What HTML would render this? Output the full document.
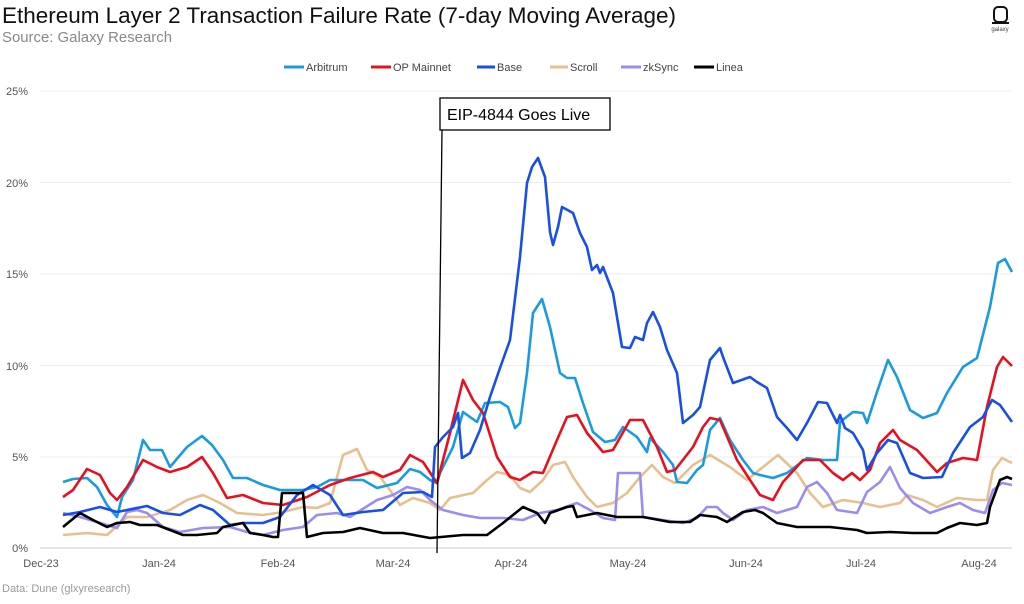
<!DOCTYPE html>
<html><head><meta charset="utf-8"><style>
body{margin:0;background:#fff;width:1024px;height:599px;overflow:hidden;font-family:"Liberation Sans",sans-serif}
</style></head><body>
<svg width="1024" height="599" xmlns="http://www.w3.org/2000/svg" font-family="Liberation Sans, sans-serif">
<text x="2" y="23" font-size="22" fill="#111" textLength="674" lengthAdjust="spacingAndGlyphs">Ethereum Layer 2 Transaction Failure Rate (7-day Moving Average)</text>
<text x="2" y="42" font-size="15" fill="#888" textLength="170" lengthAdjust="spacingAndGlyphs">Source: Galaxy Research</text>
<rect x="994" y="7" width="13" height="15" rx="4" fill="none" stroke="#111" stroke-width="2"/>
<line x1="992" y1="23" x2="1009" y2="23" stroke="#111" stroke-width="2"/>
<text x="1000" y="31" font-size="6" fill="#444" text-anchor="middle">galaxy</text>
<g font-size="11" fill="#444">
<line x1="284" y1="67" x2="304" y2="67" stroke="#1a9be0" stroke-width="3"/><text x="306" y="71">Arbitrum</text>
<line x1="371" y1="67" x2="391" y2="67" stroke="#e8101e" stroke-width="3"/><text x="393" y="71">OP Mainnet</text>
<line x1="477" y1="67" x2="495" y2="67" stroke="#1a4fe6" stroke-width="3"/><text x="497" y="71">Base</text>
<line x1="550" y1="67" x2="568" y2="67" stroke="#e6c08e" stroke-width="3"/><text x="570" y="71">Scroll</text>
<line x1="621" y1="67" x2="641" y2="67" stroke="#9b8cf0" stroke-width="3"/><text x="643" y="71">zkSync</text>
<line x1="694" y1="67" x2="714" y2="67" stroke="#000" stroke-width="3"/><text x="716" y="71">Linea</text>
</g>
<g stroke="#eee" stroke-width="1">
<line x1="40" y1="91" x2="1012" y2="91"/><line x1="40" y1="182.5" x2="1012" y2="182.5"/>
<line x1="40" y1="274" x2="1012" y2="274"/><line x1="40" y1="365.5" x2="1012" y2="365.5"/>
<line x1="40" y1="457" x2="1012" y2="457"/>
</g>
<line x1="40" y1="548" x2="1012" y2="548" stroke="#ccc"/>
<g font-size="11" fill="#555" text-anchor="end">
<text x="28" y="95">25%</text><text x="28" y="187">20%</text><text x="28" y="278">15%</text>
<text x="28" y="370">10%</text><text x="28" y="461">5%</text><text x="28" y="552">0%</text>
</g>
<g font-size="11" fill="#555" text-anchor="middle">
<text x="41" y="567">Dec-23</text><text x="159" y="567">Jan-24</text><text x="278" y="567">Feb-24</text>
<text x="393" y="567">Mar-24</text><text x="511" y="567">Apr-24</text><text x="628" y="567">May-24</text>
<text x="746" y="567">Jun-24</text><text x="861" y="567">Jul-24</text><text x="979" y="567">Aug-24</text>
</g>
<text x="2" y="592" font-size="11" fill="#999">Data: Dune (glxyresearch)</text>
<g fill="none" stroke-width="2.6" stroke-linejoin="round">
<polyline stroke="#e6c08e" points="63,535 87,533 107,535 127,517 147,517 170,510 187,500 203,495 220,503 237,513 263,515 283,512 303,507 317,508 330,503 343,455 357,449 367,470 380,477 390,490 400,505 413,498 430,503 440,510 450,498 473,493 487,480 497,472 510,475 520,488 530,492 543,480 553,465 565,462 573,477 587,497 597,507 613,503 627,493 640,477 652,465 663,477 675,483 693,465 710,455 730,467 747,480 763,467 778,455 797,473 810,493 823,507 843,500 863,503 880,507 900,503 907,495 923,500 937,507 957,498 977,500 987,500 993,470 1002,458 1012,463"/>
<polyline stroke="#9b8cf0" points="63,513 80,517 97,522 117,528 127,512 137,510 147,513 163,527 180,532 203,528 230,527 247,532 263,535 283,530 303,527 317,515 337,513 350,517 377,500 393,495 407,487 420,490 430,500 443,510 463,515 480,518 503,518 523,520 540,513 557,510 577,503 590,510 603,518 615,520 618,473 640,473 643,517 663,520 683,523 697,518 707,507 717,507 723,513 733,520 747,510 763,507 777,513 797,507 807,487 817,482 827,493 837,510 857,513 867,492 880,482 890,467 900,488 913,503 930,513 947,507 960,503 973,510 985,513 993,490 1002,483 1012,485"/>
<polyline stroke="#1a9be0" points="63,482 73,479 87,478 97,487 107,505 117,517 122,497 133,480 143,440 150,450 162,450 170,467 187,447 202,436 212,445 223,460 233,478 247,478 263,485 280,490 303,490 317,487 330,480 343,480 363,480 377,488 397,483 410,469 420,472 430,480 437,483 440,473 453,447 463,412 477,422 485,403 500,402 508,407 515,428 520,423 527,373 533,313 542,299 550,327 560,373 567,378 575,378 583,403 593,432 605,442 615,440 623,427 637,437 647,452 650,438 663,452 673,465 677,482 687,483 697,470 703,465 710,430 720,418 730,440 743,460 753,473 760,475 773,478 787,473 807,458 823,460 837,460 840,422 853,412 863,413 867,423 877,392 888,360 897,377 910,410 923,418 937,413 947,393 963,367 977,358 990,307 998,263 1005,259 1012,272"/>
<polyline stroke="#e8101e" points="63,497 73,490 87,469 100,475 110,493 117,500 127,487 143,460 157,467 170,472 187,467 202,457 213,473 227,498 243,495 263,503 283,505 307,497 330,485 350,478 373,472 383,477 400,470 410,455 423,462 437,483 450,433 463,380 473,400 483,413 497,457 510,477 520,480 533,472 543,473 557,440 567,417 577,415 587,433 603,452 613,450 630,420 643,420 657,447 667,472 675,470 693,447 703,427 710,418 720,420 737,460 750,480 760,495 773,500 783,482 803,460 820,460 833,473 843,480 852,473 860,480 870,470 880,443 893,430 900,440 917,450 937,472 947,463 963,458 977,460 987,407 997,367 1003,357 1012,366"/>
<polyline stroke="#1a4fe6" points="63,515 80,512 100,507 117,512 147,506 163,513 180,515 200,505 213,510 230,525 243,523 263,523 280,517 297,495 313,485 330,495 343,515 363,512 383,510 403,493 423,492 432,497 435,447 443,437 453,427 458,413 462,458 470,453 480,430 490,397 500,368 510,340 520,257 527,183 532,167 538,158 545,177 550,232 553,245 558,227 562,207 573,213 580,233 587,247 592,270 597,265 600,273 603,267 613,293 622,347 630,348 635,337 643,340 647,323 653,312 660,327 667,350 677,373 683,423 693,415 700,407 710,360 720,348 723,357 733,383 750,377 757,382 767,388 777,417 787,428 797,440 807,423 818,402 827,403 837,423 840,415 845,428 853,433 863,450 867,470 877,453 888,440 897,443 910,473 923,478 942,477 953,453 970,427 983,417 992,400 1000,405 1012,422"/>
<polyline stroke="#000" points="63,527 80,513 93,520 107,527 117,523 130,522 140,525 157,525 170,530 183,535 197,535 217,533 223,527 243,523 250,533 263,535 273,537 278,537 282,493 303,493 307,537 323,533 343,532 360,528 383,533 403,533 430,538 463,535 487,535 503,523 523,507 537,513 545,523 550,513 567,507 573,506 577,517 597,513 617,517 643,517 670,522 690,522 700,515 717,517 727,522 743,512 755,510 763,513 777,523 797,527 830,527 857,530 867,533 890,532 913,533 937,533 947,528 960,523 977,525 987,523 990,507 1000,480 1007,477 1012,479"/>
</g>
<line x1="437" y1="553" x2="442" y2="130" stroke="#000" stroke-width="1.3"/>
<rect x="440" y="98" width="170" height="32" fill="#fff" stroke="#000" stroke-width="1.3"/>
<text x="447" y="120" font-size="16" fill="#000">EIP-4844 Goes Live</text>
</svg>
</body></html>
